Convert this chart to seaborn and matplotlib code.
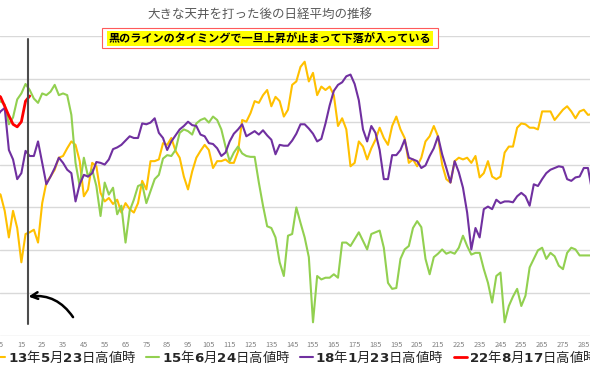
import matplotlib
matplotlib.use("Agg")
import matplotlib.pyplot as plt
from matplotlib.patches import Rectangle
import seaborn as sns

# ---- data (index rebased: peak = 100), x = trading days after the peak ----
days = list(range(3, 291, 2))

y2013 = [86.8,
         86.5, 84.6, 81.5, 84.6, 82.6, 78.6, 81.9, 82.1, 82.4, 80.9,
         85.5, 87.9, 88.6, 89.4, 90.8, 91.0, 91.9, 92.7, 92.3, 90.4,
         86.3, 87.1, 90.2, 89.8, 86.7, 85.7, 86.1, 85.4, 85.9,
         84.4, 85.5, 84.8, 84.4, 85.5, 88.1, 87.1, 90.4, 90.4, 90.6,
         92.5, 92.3, 93.1, 91.6, 90.8, 88.6, 87.1, 89.2, 90.8, 91.6,
         92.3, 91.7, 89.6, 90.4, 90.4, 90.6, 90.2, 90.2, 91.5,
         95.2, 95.0, 96.0, 97.4, 97.2, 98.1, 98.7, 96.8, 97.9, 97.4,
         95.6, 96.4, 99.3, 99.7, 101.4, 102.0, 99.7, 100.7, 98.1, 99.1,
         98.7, 99.1, 98.1, 94.5, 95.4, 94.1, 89.8, 90.2,
         92.7, 92.1, 90.6, 91.9, 92.9, 94.3, 93.1, 92.3, 94.5, 95.6,
         94.1, 93.1, 90.2, 90.6, 89.8, 90.8, 92.7, 93.3, 94.5, 93.3,
         90.0, 88.3, 87.9, 90.4, 90.8, 90.6, 90.8, 90.2,
         91.0, 88.5, 89.0, 90.4, 88.6, 88.3, 88.6, 91.4, 92.1, 92.1,
         94.3, 94.8, 94.7, 94.3, 94.3, 94.1, 96.2, 96.2, 96.2, 95.2,
         95.8, 96.4, 96.8, 96.2, 95.4, 96.2, 96.4, 95.8,
         95.9]

y2015 = [97.0,
         97.4, 97.0, 94.7, 95.5, 97.6, 98.3, 99.4, 98.7, 97.7, 97.2,
         98.3, 98.1, 98.5, 99.3, 98.1, 98.3, 98.1, 95.8, 90.2, 87.5,
         90.8, 88.6, 89.4, 87.5, 84.0, 87.9, 86.5, 87.3, 84.2,
         85.2, 80.9, 84.6, 85.9, 87.5, 87.7, 85.5, 86.9, 88.3, 88.8,
         90.7, 91.1, 91.0, 91.7, 93.7, 94.1, 93.9, 93.5, 94.8, 95.2,
         95.4, 94.9, 95.6, 95.2, 94.1, 92.1, 90.4, 91.4, 92.1,
         91.3, 91.0, 90.9, 90.9, 87.9, 85.2, 82.8, 82.6, 81.5, 78.6,
         77.0, 81.7, 81.9, 85.0, 83.2, 81.5, 79.2, 71.6, 77.0, 76.6,
         76.8, 76.8, 77.2, 76.8, 80.9, 80.9, 80.5, 81.3,
         82.1, 81.1, 80.1, 81.9, 82.1, 82.3, 80.3, 76.2, 75.5, 75.6,
         79.0, 80.1, 80.5, 82.6, 83.4, 82.7, 79.0, 77.2, 79.2, 79.6,
         80.1, 79.6, 79.8, 79.6, 80.3, 81.7, 80.5, 79.5,
         79.7, 79.7, 77.8, 76.2, 73.9, 77.0, 77.4, 71.6, 73.5, 74.6,
         75.5, 73.5, 74.7, 78.0, 79.0, 80.0, 80.3, 79.0, 79.7, 79.3,
         78.2, 77.8, 79.7, 80.3, 80.1, 79.4, 79.4, 79.4,
         79.4]

y2018 = [95.5,
         96.2, 96.6, 91.7, 90.6, 88.3, 89.0, 91.6, 91.0, 91.0, 92.7,
         90.2, 87.7, 88.6, 89.6, 90.8, 90.2, 89.4, 89.0, 85.7, 87.7,
         88.8, 88.6, 89.0, 90.3, 90.2, 90.0, 90.6, 91.8, 92.0,
         92.3, 92.8, 93.3, 93.1, 93.1, 94.8, 94.7, 94.9, 95.4, 93.7,
         93.1, 91.7, 92.7, 93.4, 94.1, 94.5, 95.0, 94.6, 94.5, 93.5,
         93.3, 92.5, 92.4, 91.9, 91.0, 91.4, 92.7, 93.6, 94.1,
         94.7, 93.3, 93.6, 93.9, 93.5, 94.0, 93.4, 92.9, 91.2, 92.3,
         92.2, 92.2, 92.8, 93.6, 94.7, 94.7, 94.2, 93.6, 92.7, 93.0,
         94.8, 96.9, 98.6, 99.3, 99.6, 100.3, 100.5, 99.4,
         97.5, 94.1, 92.7, 94.5, 93.7, 91.7, 88.3, 88.3, 91.1, 91.1,
         91.7, 92.9, 90.8, 90.6, 90.4, 89.6, 89.9, 91.0, 91.9, 93.3,
         91.2, 89.6, 87.9, 90.4, 89.1, 87.3, 84.4, 80.1,
         82.6, 81.5, 84.8, 85.1, 84.8, 85.9, 85.5, 85.7, 85.7, 85.6,
         86.3, 86.7, 86.3, 85.2, 87.7, 87.5, 88.3, 89.0, 89.4, 89.6,
         89.8, 89.7, 88.3, 88.1, 88.5, 88.6, 89.6, 89.6,
         86.9]

days2022 = [3, 5, 7, 9, 11, 13, 15, 17, 19]
y2022 = [98.2, 97.9, 96.8, 95.7, 94.7, 94.4, 95.0, 97.4, 98.0]

labels = [r"$\mathbf{13}$年$\mathbf{5}$月$\mathbf{23}$日高値時",
          r"$\mathbf{15}$年$\mathbf{6}$月$\mathbf{24}$日高値時",
          r"$\mathbf{18}$年$\mathbf{1}$月$\mathbf{23}$日高値時",
          r"$\mathbf{22}$年$\mathbf{8}$月$\mathbf{17}$日高値時"]
colors = ["#FFC000", "#92D050", "#7030A0", "#FF0000"]
xticks = list(range(5, 290, 10))
marker_day = 18

title = "大きな天井を打った後の日経平均の推移"
note = "黒のラインのタイミングで一旦上昇が止まって下落が入っている"

# ---- style ----
sns.set_style("white")
plt.rcParams["font.family"] = ["Noto Sans CJK JP", "DejaVu Sans"]
plt.rcParams["mathtext.fontset"] = "dejavusans"
plt.rcParams["axes.unicode_minus"] = False

fig = plt.figure(figsize=(5.9, 3.8), dpi=100)
ax = fig.add_axes([0, 44 / 380, 1, 300 / 380])

series = [(days, y2013, 1.5), (days, y2015, 1.5), (days, y2018, 1.5), (days2022, y2022, 2.0)]
for (dx, dy, lw), lab, col in zip(series, labels, colors):
    sns.lineplot(x=dx, y=dy, ax=ax, color=col, linewidth=lw, label=lab,
                 estimator=None, sort=False)

ax.set_xlim(4.74, 287.98)
ax.set_ylim(70, 105)
ax.set_xticks(xticks)
ax.set_xticklabels([str(t) for t in xticks])
ax.set_yticks(list(range(70, 106, 5)))
ax.set_yticklabels([])
ax.grid(axis="y", color="#d9d9d9", linewidth=1.0)
ax.grid(axis="x", visible=False)
ax.set_axisbelow(True)
for s in ax.spines.values():
    s.set_visible(False)
ax.tick_params(axis="x", length=0, pad=3.5, labelsize=5.3, labelcolor="#808080")
ax.tick_params(axis="y", length=0)
ax.set_xlabel("")
ax.set_ylabel("")

# black timing line
ax.axvline(marker_day, ymin=0.04, ymax=0.99, color="#4d4d4d", linewidth=1.5, zorder=5)

# hand-drawn style arrow
ax.annotate("", xy=(18.4, 74.6), xytext=(39.8, 72.2),
            arrowprops=dict(arrowstyle="->", lw=1.8, color="black",
                            connectionstyle="arc3,rad=0.3", mutation_scale=12,
                            shrinkA=0, shrinkB=0), zorder=6)

# legend
handles, labs = ax.get_legend_handles_labels()
ax.get_legend().remove()
fig.legend(handles, labs, loc="center", bbox_to_anchor=(0.5, 1 - 357 / 380),
           ncol=4, frameon=False, fontsize=9.65, handlelength=0.95,
           handletextpad=0.2, columnspacing=0.75)

# title and note box
fig.text(260 / 590, 1 - 15 / 380, title, ha="center", va="center",
         fontsize=9.0, color="#595959")
rect = Rectangle((102 / 590, 1 - 48 / 380), 336 / 590, 20 / 380,
                 transform=fig.transFigure, facecolor="white",
                 edgecolor="#FF5A5A", linewidth=0.8, zorder=4)
fig.add_artist(rect)
fig.text(270 / 590, 1 - 38.5 / 380, note, ha="center", va="center",
         fontsize=8, fontweight="bold", color="black", zorder=5,
         bbox=dict(facecolor="#FFFF00", edgecolor="none", pad=1.0))

fig.savefig("out.png", dpi=100)
